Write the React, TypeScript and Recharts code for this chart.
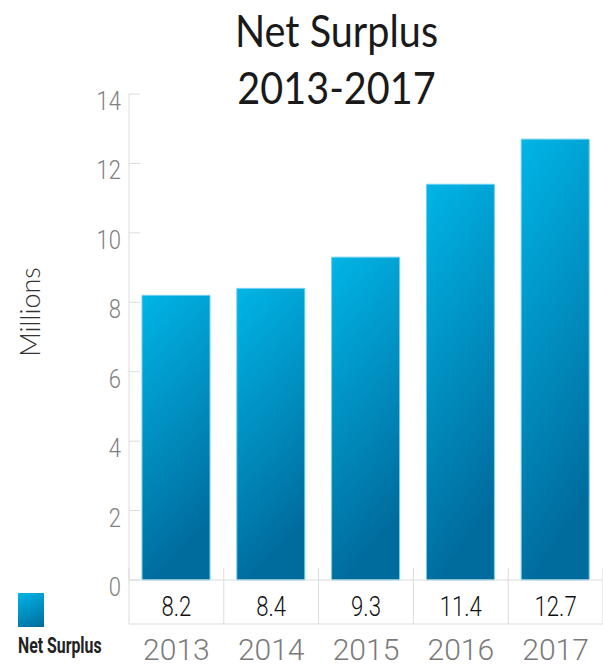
import React from 'react';
import { BarChart, Bar, XAxis, YAxis } from 'recharts';

const categories = ['2013', '2014', '2015', '2016', '2017'];
const values = [8.2, 8.4, 9.3, 11.4, 12.7];
const yTicks = [0, 2, 4, 6, 8, 10, 12, 14];
const titleLines = ['Net Surplus', '2013-2017'];
const seriesName = 'Net Surplus';
const axisTitle = 'Millions';

const data = categories.map((c, i) => ({ year: c, value: values[i] }));

const W = 603;
const H = 666;
const Y_AXIS_W = 129;
const PLOT_W = W - Y_AXIS_W;
const BAND = PLOT_W / categories.length;
const GRID = '#dcdcdc';
const NUM_FONT = 'Roboto, "Noto Sans", sans-serif';

const YTick = (props: any) => {
  const { x, y, payload } = props;
  return (
    <g>
      <line x1={x + 8} x2={x + 19} y1={y} y2={y} stroke={GRID} strokeWidth={1} />
      <text
        transform={`translate(${x}, ${y + 16}) scale(0.88, 1)`}
        textAnchor="end"
        fontFamily={NUM_FONT}
        fontWeight={300}
        fontSize={25}
        fill="#808080"
      >
        {payload.value}
      </text>
    </g>
  );
};

const XTick = (props: any) => {
  const { x, y, payload, index } = props;
  const left = x - BAND / 2;
  const right = x + BAND / 2;
  const last = index === categories.length - 1;
  return (
    <g>
      <line x1={left} x2={left} y1={y - 12} y2={y + 44} stroke={GRID} strokeWidth={1} />
      {last && <line x1={right} x2={right} y1={y - 12} y2={y + 44} stroke={GRID} strokeWidth={1} />}
      <line x1={left} x2={right} y1={y + 44} y2={y + 44} stroke={GRID} strokeWidth={1} />
      <text
        transform={`translate(${x}, ${y + 36}) scale(0.82, 1)`}
        textAnchor="middle"
        fontFamily={NUM_FONT}
        fontWeight={300}
        fontSize={27}
        fill="#111"
      >
        {values[index]}
      </text>
      <text x={x} y={y + 80} textAnchor="middle" fontFamily={NUM_FONT} fontWeight={300} fontSize={30} fill="#7a7a7a">
        {payload.value}
      </text>
    </g>
  );
};

const YLabel = () => {
  return (
    <text
      x={0}
      y={0}
      transform="translate(40, 312) rotate(-90)"
      textAnchor="middle"
      fontFamily='Lato, "Noto Sans", sans-serif'
      fontWeight={300}
      fontSize={27}
      fill="#333"
    >
      {axisTitle}
    </text>
  );
};

export default function App() {
  return (
    <div style={{ position: 'absolute', left: 0, top: 0, width: W, height: H, background: '#fff', overflow: 'hidden' }}>
      <div
        style={{
          position: 'absolute',
          left: 0,
          top: 2,
          width: 673,
          textAlign: 'center',
          fontFamily: 'Lato, "Noto Sans", sans-serif',
          fontWeight: 400,
          fontSize: 45,
          lineHeight: '57px',
          color: '#1a1a1a',
        }}
      >
        {titleLines.map((t) => (
          <div key={t} style={{ transform: 'scaleX(0.88)' }}>{t}</div>
        ))}
      </div>
      <BarChart width={W} height={H} data={data} margin={{ top: 94, right: 0, bottom: 0, left: 0 }}>
        <defs>
          <linearGradient id="barGrad" x1="0" y1="0" x2="0.25" y2="1">
            <stop offset="0%" stopColor="#00b5e6" />
            <stop offset="100%" stopColor="#006b9d" />
          </linearGradient>
        </defs>
        <XAxis
          dataKey="year"
          height={86}
          interval={0}
          axisLine={{ stroke: GRID }}
          tickLine={false}
          tickSize={0}
          tickMargin={0}
          tick={<XTick />}
        />
        <YAxis
          width={Y_AXIS_W}
          domain={[0, 14]}
          ticks={yTicks}
          interval={0}
          axisLine={{ stroke: GRID }}
          tickLine={false}
          tickSize={0}
          tickMargin={8}
          tick={<YTick />}
          label={<YLabel />}
        />
        <Bar
          dataKey="value"
          name={seriesName}
          fill="url(#barGrad)"
          stroke="#6fd0f0"
          strokeWidth={1}
          barSize={68}
          isAnimationActive={false}
        />
      </BarChart>
      <div
        style={{
          position: 'absolute',
          left: 18,
          top: 593,
          width: 26,
          height: 34,
          background: 'linear-gradient(155deg, #00b5e6 0%, #006b9d 100%)',
        }}
      />
      <div
        style={{
          position: 'absolute',
          left: 18,
          top: 633,
          fontFamily: 'Roboto, "Noto Sans", sans-serif',
          fontWeight: 700,
          fontSize: 22,
          lineHeight: '26px',
          color: '#222',
          whiteSpace: 'nowrap',
          transform: 'scaleX(0.72)',
          transformOrigin: 'left top',
        }}
      >
        {seriesName}
      </div>
    </div>
  );
}
